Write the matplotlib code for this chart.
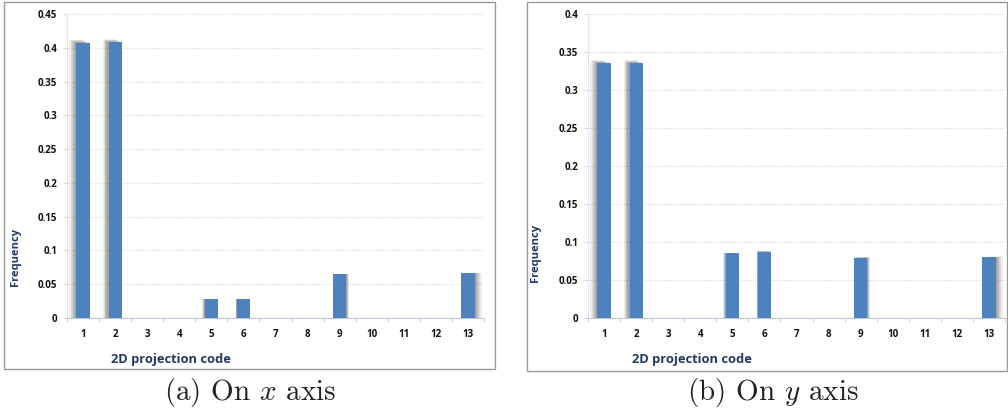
import matplotlib.pyplot as plt
from matplotlib.patches import Rectangle

# Data
codes = [1, 2, 3, 4, 5, 6, 7, 8, 9, 10, 11, 12, 13]
freq_x = [0.407, 0.408, 0, 0, 0.028, 0.028, 0, 0, 0.065, 0, 0, 0, 0.066]
freq_y = [0.335, 0.335, 0, 0, 0.085, 0.087, 0, 0, 0.079, 0, 0, 0, 0.080]
captions = [r'(a) On $x$ axis', r'(b) On $y$ axis']

BAR = '#4F81BD'
NAVY = '#1F3864'
GRID = '#D3DFEF'

plt.rcParams['mathtext.fontset'] = 'cm'

W, H = 1008, 419
fig = plt.figure(figsize=(W / 100, H / 100), dpi=100)


def px(x0, y0, x1, y1):
    # pixel box (top-left origin) -> figure fraction rect
    return [x0 / W, 1 - y1 / H, (x1 - x0) / W, (y1 - y0) / H]


def panel(rect, box, vals, ymax, label_pos):
    # outer frame like the pasted Excel chart
    fig.patches.append(Rectangle((box[0], box[1]), box[2], box[3], transform=fig.transFigure,
                                 fill=False, edgecolor='#9a9a9a', lw=1.0))
    ax = fig.add_axes(rect)
    center = (codes[0] + codes[-1]) / 2
    # soft perspective shadow
    for k in range(6, 0, -1):
        offs = [(c - center) * 0.006 * k for c in codes]
        ax.bar([c + o for c, o in zip(codes, offs)], [v * (1 + 0.002 * k) if v else 0 for v in vals],
               width=0.42, color='black', alpha=0.07, lw=0, zorder=2)
    ax.bar(codes, vals, width=0.41, color=BAR, zorder=3)
    ax.set_xlim(0.5, 13.5)
    ax.set_ylim(0, ymax)
    ticks = [i * 0.05 for i in range(int(round(ymax / 0.05)) + 1)]
    ax.set_yticks(ticks)
    ax.set_yticklabels(['0' if t == 0 else f'{t:g}' for t in ticks])
    ax.set_xticks(codes)
    ax.set_xticks([c + 0.5 for c in codes[:-1]] + [0.5, 13.5], minor=True)
    ax.tick_params(axis='x', which='major', length=0, pad=8)
    ax.tick_params(axis='x', which='minor', length=3, color='#BFC8D6', direction='out')
    ax.tick_params(axis='y', length=3, color='#D0DAE8', pad=4)
    for lab in ax.get_xticklabels() + ax.get_yticklabels():
        lab.set_fontfamily('Open Sans')
        lab.set_fontweight('bold')
        lab.set_fontsize(7)
        lab.set_color('#111111')
    ax.grid(axis='y', color=GRID, lw=0.8, ls=(0, (1, 1)), zorder=0)
    for s in ['top', 'right']:
        ax.spines[s].set_visible(False)
    ax.spines['left'].set_color('#DCE6F2')
    ax.spines['bottom'].set_color('#BFC8D6')
    ax.set_ylabel('Frequency', fontfamily='Open Sans', fontweight='bold', fontsize=8, color=NAVY)
    ax.set_xlabel('2D projection code', fontfamily='Open Sans', fontweight='bold', fontsize=9.3, color=NAVY)
    ax.yaxis.set_label_coords(label_pos[0], label_pos[1])
    ax.xaxis.set_label_coords(label_pos[2], label_pos[3])
    return ax


panel(px(67, 14, 484, 318), px(4, 2, 495, 369), freq_x, 0.45, (-0.11, 0.2, 0.25, -0.115))
panel(px(588, 14, 1005, 318), px(527, 2, 1007, 371), freq_y, 0.4, (-0.113, 0.215, 0.25, -0.115))

fig.text(250 / W, 1 - 392 / H, captions[0], ha='center', va='center', fontsize=21,
         fontfamily='cmr10', color='#222222')
fig.text(773 / W, 1 - 392 / H, captions[1], ha='center', va='center', fontsize=21,
         fontfamily='cmr10', color='#222222')

plt.savefig('out.png', dpi=100)
